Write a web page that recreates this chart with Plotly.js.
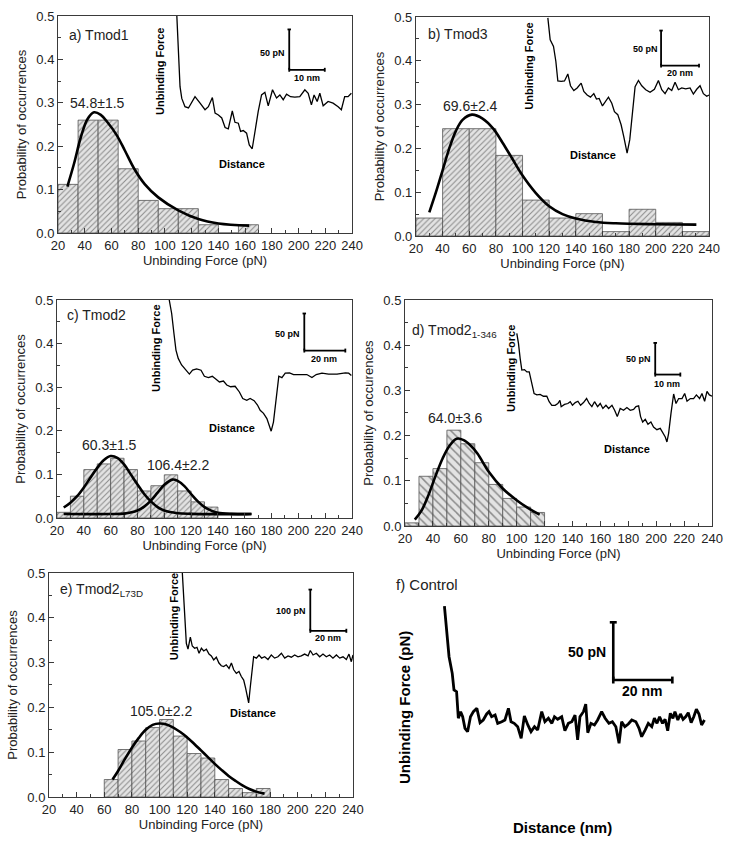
<!DOCTYPE html>
<html>
<head>
<meta charset="utf-8">
<script src="https://cdn.plot.ly/plotly-3.0.1.min.js"></script>
<style>
  html, body { margin: 0; padding: 0; background: #fff; }
  #chart { width: 729px; height: 845px; }
</style>
</head>
<body>
<div id="chart"></div>
<script>
// a) Tmod1
const tmod1BinStart = [20, 35, 50, 65, 80, 95, 110, 125, 140, 155];
const tmod1Prob = [0.112, 0.26, 0.26, 0.148, 0.075, 0.056, 0.056, 0.019, 0, 0.019];
const tmod1FitX = [27, 32, 37, 42, 47, 52, 57, 64, 70, 77, 85, 95, 110, 125, 140, 163];
const tmod1FitY = [0.107, 0.16, 0.22, 0.262, 0.278, 0.272, 0.255, 0.225, 0.19, 0.148, 0.112, 0.082, 0.052, 0.032, 0.022, 0.017];
const tmod1TraceX = [108.9, 110.1, 111.3, 112.6, 115, 117.6, 122.5, 126.3, 130, 132.5, 135.5, 137.5, 140, 142.5, 145, 147.4, 150.4, 152.4, 154.9, 156.6, 158.6, 161.1, 163.1, 165.3, 167.3, 169.8, 172.3, 174.8, 177.3, 180.5, 183.5, 186, 188.5, 191, 194, 197.2, 200.9, 204.7, 207.2, 209.6, 211.6, 213.9, 215.9, 218.4, 222.1, 225.8, 229.6, 232, 234.5, 237, 239.5];
const tmod1TraceY = [0.5, 0.42, 0.337, 0.31, 0.291, 0.288, 0.314, 0.299, 0.284, 0.291, 0.312, 0.276, 0.272, 0.265, 0.243, 0.24, 0.281, 0.255, 0.253, 0.234, 0.236, 0.23, 0.203, 0.194, 0.234, 0.28, 0.318, 0.324, 0.293, 0.33, 0.311, 0.318, 0.307, 0.32, 0.314, 0.313, 0.314, 0.33, 0.322, 0.295, 0.318, 0.303, 0.322, 0.293, 0.303, 0.299, 0.291, 0.284, 0.314, 0.314, 0.322];

// b) Tmod3
const tmod3BinStart = [20, 40, 60, 80, 100, 120, 140, 160, 180, 200, 220];
const tmod3Prob = [0.041, 0.245, 0.245, 0.184, 0.082, 0.041, 0.051, 0.010, 0.061, 0.031, 0.010];
const tmod3FitX = [30, 35, 40, 45, 50, 55, 62, 70, 78, 85, 92, 100, 110, 120, 130, 140, 155, 170, 200, 230.5];
const tmod3FitY = [0.054, 0.1, 0.15, 0.2, 0.24, 0.265, 0.277, 0.268, 0.245, 0.213, 0.178, 0.138, 0.098, 0.068, 0.05, 0.04, 0.032, 0.029, 0.027, 0.026];
const tmod3TraceX = [119, 120.75, 123.25, 125, 126.5, 129, 131.5, 134, 136, 138.5, 141, 144, 146, 148.5, 151, 153.5, 155.5, 157.5, 160, 162, 164.5, 167, 169, 171.5, 174, 176, 178.5, 180.5, 182.5, 184.5, 187, 189.5, 192.5, 195.75, 199, 202, 204.5, 207, 209.5, 212, 214.5, 217, 219.5, 222.5, 225.75, 228.25, 230.75, 233.25, 235.75, 238.25, 240];
const tmod3TraceY = [0.498, 0.448, 0.433, 0.399, 0.354, 0.353, 0.354, 0.37, 0.343, 0.332, 0.338, 0.349, 0.33, 0.322, 0.317, 0.325, 0.3125, 0.314, 0.297, 0.305, 0.317, 0.303, 0.284, 0.277, 0.254, 0.227, 0.189, 0.22, 0.288, 0.341, 0.355, 0.343, 0.334, 0.328, 0.335, 0.355, 0.334, 0.325, 0.338, 0.332, 0.351, 0.334, 0.338, 0.336, 0.338, 0.324, 0.335, 0.343, 0.325, 0.319, 0.322];

// c) Tmod2
const tmod2BinStart = [20, 30, 40, 50, 60, 70, 80, 90, 100, 110, 120, 130];
const tmod2Prob = [0.013, 0.05, 0.111, 0.124, 0.137, 0.111, 0.062, 0.074, 0.099, 0.062, 0.037, 0.025];
const tmod2FitLowX = [25, 30, 35, 40, 45, 50, 55, 60, 65, 70, 75, 80, 85, 90, 95, 100, 110, 120, 165];
const tmod2FitLowY = [0.024, 0.035, 0.05, 0.07, 0.093, 0.115, 0.133, 0.142, 0.138, 0.123, 0.1, 0.077, 0.055, 0.038, 0.025, 0.017, 0.011, 0.0095, 0.009];
const tmod2FitHighX = [25, 60, 70, 80, 85, 90, 95, 100, 106, 110, 115, 120, 125, 130, 135, 140, 150, 165];
const tmod2FitHighY = [0.009, 0.009, 0.01, 0.017, 0.026, 0.04, 0.058, 0.076, 0.088, 0.085, 0.073, 0.055, 0.038, 0.025, 0.017, 0.012, 0.0095, 0.009];
const tmod2TraceX = [103.7, 105.5, 107.2, 108.7, 110.4, 112.9, 116.2, 118.7, 121.1, 124.1, 127.4, 129.9, 132.9, 135.8, 138.6, 141.1, 144.1, 146.6, 149.5, 152.8, 156, 158.5, 161.5, 164, 167, 169.5, 171.5, 174, 176.5, 178.4, 179.7, 181.4, 183.4, 185.4, 187.7, 190.2, 193.4, 196.4, 201.4, 206.3, 210.1, 213.3, 217.6, 222.5, 228.8, 235, 237.5, 239.5];
const tmod2TraceY = [0.5, 0.469, 0.423, 0.385, 0.366, 0.351, 0.339, 0.33, 0.339, 0.342, 0.339, 0.325, 0.322, 0.325, 0.318, 0.312, 0.314, 0.305, 0.301, 0.302, 0.289, 0.274, 0.27, 0.274, 0.269, 0.259, 0.247, 0.24, 0.228, 0.209, 0.199, 0.22, 0.27, 0.325, 0.322, 0.332, 0.333, 0.329, 0.329, 0.329, 0.322, 0.329, 0.332, 0.33, 0.33, 0.333, 0.332, 0.327];

// d) Tmod2 1-346
const tmod2TruncBinStart = [20, 30, 40, 50, 60, 70, 80, 90, 100, 110];
const tmod2TruncProb = [0.007, 0.11, 0.127, 0.212, 0.182, 0.14, 0.092, 0.061, 0.042, 0.03];
const tmod2TruncFitX = [27, 32, 37, 42, 47, 52, 57, 62, 67, 72, 80, 90, 100, 108, 116.5];
const tmod2TruncFitY = [0.014, 0.035, 0.07, 0.112, 0.15, 0.178, 0.193, 0.19, 0.178, 0.16, 0.12, 0.083, 0.057, 0.04, 0.025];
const tmod2TruncTraceX = [100.1, 101.3, 102.5, 103.7, 105.6, 107.3, 109, 110.9, 112.5, 114.5, 116.8, 119.2, 121.6, 123.3, 125.2, 127.6, 129.5, 131, 131.9, 134.3, 136.7, 138.4, 140, 142, 143.9, 145.8, 147.9, 150.1, 152, 153.9, 155.8, 158, 159.9, 161.8, 164, 165.9, 168.3, 170.2, 172.1, 174.2, 176.6, 179, 181.4, 183.8, 185.5, 187.4, 188.8, 190.3, 192.2, 194.1, 196.2, 198.1, 200.5, 202.9, 204.8, 206.5, 207.7, 208.9, 210.6, 212.5, 214.2, 216.1, 218.5, 220.4, 222.1, 224.5, 226.8, 228.8, 231.1, 232.8, 234.7, 236.4, 238.1, 240];
const tmod2TruncTraceY = [0.426, 0.404, 0.371, 0.345, 0.346, 0.341, 0.341, 0.315, 0.293, 0.29, 0.291, 0.287, 0.287, 0.275, 0.267, 0.267, 0.271, 0.278, 0.264, 0.269, 0.271, 0.275, 0.267, 0.273, 0.276, 0.267, 0.273, 0.282, 0.271, 0.264, 0.275, 0.264, 0.271, 0.26, 0.267, 0.26, 0.267, 0.256, 0.242, 0.26, 0.256, 0.262, 0.256, 0.258, 0.264, 0.266, 0.242, 0.23, 0.236, 0.225, 0.23, 0.219, 0.213, 0.216, 0.205, 0.197, 0.186, 0.205, 0.249, 0.292, 0.271, 0.282, 0.282, 0.293, 0.276, 0.282, 0.282, 0.29, 0.282, 0.293, 0.276, 0.298, 0.29, 0.287];

// e) Tmod2 L73D
const tmod2MutBinStart = [60, 70, 80, 90, 100, 110, 120, 130, 140, 150, 160, 170];
const tmod2MutProb = [0.039, 0.106, 0.125, 0.155, 0.173, 0.136, 0.097, 0.087, 0.039, 0.019, 0.0097, 0.019];
const tmod2MutFitX = [66, 70, 75, 80, 85, 90, 95, 100, 105, 110, 115, 120, 125, 130, 135, 140, 145, 150, 155, 160, 165, 170, 176];
const tmod2MutFitY = [0.039, 0.058, 0.085, 0.11, 0.132, 0.15, 0.161, 0.164, 0.162, 0.155, 0.145, 0.133, 0.119, 0.104, 0.089, 0.074, 0.06, 0.047, 0.036, 0.026, 0.018, 0.012, 0.0075];
const tmod2MutTraceX = [116.5, 117.5, 118.4, 119.4, 120.6, 122.3, 123.7, 125.4, 127.1, 128.6, 130.3, 132, 133.9, 135.8, 137.5, 139.2, 141.1, 143, 144.7, 146.4, 148.3, 150.3, 152, 153.7, 155.6, 157.5, 159.2, 160.9, 162.3, 163.8, 164.5, 165.7, 166.9, 168.1, 170.1, 172, 173.9, 176.1, 178.5, 180.9, 183.3, 185.7, 188.2, 190.6, 193, 195.4, 197.8, 200.2, 202.6, 205, 207.5, 209.1, 211.1, 213.5, 215.9, 218.3, 220.7, 223.1, 225.5, 228, 230.4, 232.8, 235.2, 237.1, 238.8, 240];
const tmod2MutTraceY = [0.5, 0.44, 0.381, 0.343, 0.33, 0.357, 0.337, 0.332, 0.334, 0.321, 0.332, 0.326, 0.33, 0.319, 0.315, 0.306, 0.312, 0.299, 0.293, 0.291, 0.295, 0.287, 0.299, 0.284, 0.276, 0.28, 0.269, 0.261, 0.243, 0.216, 0.21, 0.246, 0.28, 0.313, 0.31, 0.317, 0.31, 0.313, 0.307, 0.317, 0.31, 0.313, 0.321, 0.31, 0.315, 0.312, 0.317, 0.313, 0.315, 0.319, 0.315, 0.327, 0.317, 0.321, 0.313, 0.319, 0.313, 0.317, 0.31, 0.317, 0.31, 0.313, 0.307, 0.319, 0.302, 0.317];

// f) Control (distance in nm, force in pN)
const controlDistance = [13.6, 14.4, 15.2, 16.3, 16.9, 17.8, 18.4, 19.2, 19.9, 20.7, 21.6, 22.6, 23.6, 24.8, 25.9, 27, 28.2, 29, 29.9, 31.1, 32, 33.4, 34.5, 35.7, 36.6, 37.7, 38.9, 40.1, 41.2, 42.4, 43.5, 44.7, 45.8, 47.2, 48.3, 49.5, 50.7, 51.6, 52.7, 54.1, 55.2, 56.4, 57.6, 58.7, 59.6, 60.4, 61.6, 62.4, 63.1, 64.2, 65.4, 66.5, 67.9, 69.1, 70.4, 71.6, 72.8, 73.9, 74.8, 75.9, 77.1, 78.3, 79.7, 80.8, 81.7, 82.9, 84, 85.2, 86.1, 87, 87.9, 88.9, 89.8, 90.7, 91.6, 92.5, 93.2, 94.2, 95.1, 96, 96.9, 97.8, 98.8, 99.7, 100.6, 101.5, 102.4, 103.4];
const controlForce = [165.4, 141.8, 121.5, 107.1, 92.7, 91.2, 68.2, 73.9, 69.5, 59.5, 56.6, 69.5, 73.9, 76.8, 64.4, 66.7, 71.9, 73.9, 69.5, 71, 63.8, 65.2, 66.7, 76.8, 65.2, 63.8, 60.9, 50.8, 70.2, 62.4, 56.6, 60.9, 58, 73.9, 65.2, 68.2, 63.8, 69.5, 67.3, 69.5, 57.4, 63.8, 65.2, 71, 49.4, 69.5, 73.9, 80.5, 55.7, 63.8, 62.4, 66.7, 73.9, 68.2, 63.8, 65.2, 60.9, 46.5, 65.2, 60.9, 63.2, 66.7, 65.2, 59.5, 52.2, 58, 63.8, 60.9, 68.2, 63.8, 69.5, 63.8, 67.3, 57.4, 72.5, 68.2, 73.9, 66.7, 71.9, 67.3, 69.5, 73, 64.4, 69.5, 76, 71.9, 62.4, 66.7];

const FONT = 'Liberation Sans, Arial, Helvetica, sans-serif';
const AXIS_COLOR = '#3a3a3a';

const panels = [
    {
        n: '', xDomain: [0.0796, 0.4829], yDomain: [0.7243, 0.9811],
        bins: tmod1BinStart, prob: tmod1Prob, binWidth: 15, hatch: '/', hatchSize: 4,
        fits: [[tmod1FitX, tmod1FitY]], trace: [tmod1TraceX, tmod1TraceY],
        yTitle: 'Probability of occurrences',
        label: ['a) Tmod1', 26.7, 0.456],
        peaks: [['54.8±1.5', 49.9, 0.30]],
        force: [95.9, 0.372], dist: [157.4, 0.159],
        bar: { x: 193, yTop: 0.469, yBot: 0.376, xEnd: 219.6, fText: '50 pN', fAt: [191, 0.414], dText: '10 nm', dAt: [206.4, 0.357] }
    },
    {
        n: '2', xDomain: [0.5706, 0.9726], yDomain: [0.7207, 0.9799],
        bins: tmod3BinStart, prob: tmod3Prob, binWidth: 20, hatch: '/', hatchSize: 4,
        fits: [[tmod3FitX, tmod3FitY]], trace: [tmod3TraceX, tmod3TraceY],
        yTitle: 'Probability of occurrences',
        label: ['b) Tmod3', 27.75, 0.461],
        peaks: [['69.6±2.4', 61, 0.297]],
        force: [105, 0.387], dist: [152.75, 0.185],
        bar: { x: 204, yTop: 0.469, yBot: 0.389, xEnd: 232.5, fText: '50 pN', fAt: [203, 0.427], dText: '20 nm', dAt: [218, 0.372] }
    },
    {
        n: '3', xDomain: [0.0782, 0.4829], yDomain: [0.3870, 0.6450],
        bins: tmod2BinStart, prob: tmod2Prob, binWidth: 10, hatch: '/', hatchSize: 4,
        fits: [[tmod2FitLowX, tmod2FitLowY], [tmod2FitHighX, tmod2FitHighY]], trace: [tmod2TraceX, tmod2TraceY],
        yTitle: 'Probability of occurrences',
        label: ['c) Tmod2', 25.7, 0.466],
        peaks: [['60.3±1.5', 59.4, 0.168], ['106.4±2.2', 110.4, 0.121]],
        force: [94.2, 0.389], dist: [150.8, 0.207],
        bar: { x: 204.4, yTop: 0.469, yBot: 0.384, xEnd: 235, fText: '50 pN', fAt: [202.4, 0.423], dText: '20 nm', dAt: [219.3, 0.364] }
    },
    {
        n: '4', xDomain: [0.5556, 0.9767], yDomain: [0.3775, 0.6450],
        bins: tmod2TruncBinStart, prob: tmod2TruncProb, binWidth: 10, hatch: '\\', hatchSize: 6,
        fits: [[tmod2TruncFitX, tmod2TruncFitY]], trace: [tmod2TruncTraceX, tmod2TruncTraceY],
        yTitle: 'Probability of occurences',
        label: ['d) Tmod2<sub>1-346</sub>', 23.6, 0.431],
        peaks: [['64.0±3.6', 55.9, 0.239]],
        force: [95.8, 0.349], dist: [179, 0.171],
        bar: { x: 199.3, yTop: 0.405, yBot: 0.335, xEnd: 217.3, fText: '50 pN', fAt: [198, 0.369], dText: '10 nm', dAt: [207.7, 0.314] }
    },
    {
        n: '5', xDomain: [0.0672, 0.4842], yDomain: [0.0568, 0.3219],
        bins: tmod2MutBinStart, prob: tmod2MutProb, binWidth: 10, hatch: '/', hatchSize: 4,
        fits: [[tmod2MutFitX, tmod2MutFitY]], trace: [tmod2MutTraceX, tmod2MutTraceY],
        yTitle: 'Probability of occurrences',
        label: ['e) Tmod2<sub>L73D</sub>', 26.5, 0.461],
        peaks: [['105.0±2.2', 101.3, 0.193]],
        force: [111, 0.403], dist: [168, 0.187],
        bar: { x: 209.1, yTop: 0.463, yBot: 0.371, xEnd: 235.2, fText: '100 pN', fAt: [207.3, 0.416], dText: '20 nm', dAt: [222, 0.354] }
    }
];

const data = [];
const layout = {
    width: 729, height: 845,
    margin: { l: 0, r: 0, t: 0, b: 0 },
    paper_bgcolor: '#fff', plot_bgcolor: '#fff',
    font: { family: FONT, color: '#222' },
    showlegend: false,
    annotations: [], shapes: []
};

function note(xref, yref, x, y, text, extra) {
    return Object.assign({
        xref, yref, x, y, text, showarrow: false, xanchor: 'center', yanchor: 'middle',
        font: { family: FONT, size: 14, color: '#222' }
    }, extra || {});
}

function scaleBar(xref, yref, b, capX, capY, width) {
    const line = { type: 'line', xref, yref, line: { color: '#000', width } };
    return [
        Object.assign({}, line, { x0: b.x, x1: b.x, y0: b.yTop, y1: b.yBot }),
        Object.assign({}, line, { x0: b.x - capX, x1: b.x + capX, y0: b.yTop, y1: b.yTop }),
        Object.assign({}, line, { x0: b.x, x1: b.xEnd, y0: b.yBot, y1: b.yBot }),
        Object.assign({}, line, { x0: b.x, x1: b.x, y0: b.yBot - capY, y1: b.yBot + capY }),
        Object.assign({}, line, { x0: b.xEnd, x1: b.xEnd, y0: b.yBot - capY, y1: b.yBot + capY })
    ];
}

panels.forEach(p => {
    const xa = 'x' + p.n, ya = 'y' + p.n;

    data.push({
        type: 'bar', x: p.bins, y: p.prob, xaxis: xa, yaxis: ya,
        width: p.binWidth, offset: 0,
        marker: {
            color: '#e3e3e3',
            line: { color: '#555', width: 0.8 },
            pattern: { shape: p.hatch, bgcolor: '#e3e3e3', fgcolor: '#8a8a8a', size: p.hatchSize, solidity: 0.25 }
        }
    });
    p.fits.forEach(f => data.push({
        type: 'scatter', mode: 'lines', x: f[0], y: f[1], xaxis: xa, yaxis: ya,
        line: { color: '#000', width: 2.6, shape: 'spline' }
    }));
    data.push({
        type: 'scatter', mode: 'lines', x: p.trace[0], y: p.trace[1], xaxis: xa, yaxis: ya,
        line: { color: '#000', width: 1.3 }
    });

    layout['xaxis' + p.n] = {
        domain: p.xDomain, anchor: ya, range: [20, 240], tick0: 20, dtick: 20,
        ticks: 'inside', ticklen: 5, tickwidth: 1, tickcolor: AXIS_COLOR,
        minor: { dtick: 10, ticks: 'inside', ticklen: 3, tickcolor: AXIS_COLOR },
        showline: true, linecolor: AXIS_COLOR, linewidth: 1, mirror: true,
        showgrid: false, zeroline: false,
        tickfont: { size: 13, color: '#222' },
        title: { text: 'Unbinding Force (pN)', font: { size: 13, color: '#222' }, standoff: 4 }
    };
    layout['yaxis' + p.n] = {
        domain: p.yDomain, anchor: xa, range: [0, 0.5], dtick: 0.1, tickformat: '.1f',
        ticks: 'inside', ticklen: 5, tickwidth: 1, tickcolor: AXIS_COLOR,
        minor: { dtick: 0.05, ticks: 'inside', ticklen: 3, tickcolor: AXIS_COLOR },
        showline: true, linecolor: AXIS_COLOR, linewidth: 1, mirror: true,
        showgrid: false, zeroline: false,
        tickfont: { size: 13, color: '#222' },
        title: { text: p.yTitle, font: { size: 13, color: '#222' }, standoff: 6 }
    };

    const A = layout.annotations;
    A.push(note(xa, ya, p.label[1], p.label[2], p.label[0], { xanchor: 'left' }));
    p.peaks.forEach(k => A.push(note(xa, ya, k[1], k[2], k[0])));
    const bold = { family: FONT, size: 11, color: '#000' };
    A.push(note(xa, ya, p.force[0], p.force[1], '<b>Unbinding Force</b>', { textangle: -90, font: bold }));
    A.push(note(xa, ya, p.dist[0], p.dist[1], '<b>Distance</b>', { font: bold }));
    const small = { family: FONT, size: 9, color: '#000' };
    A.push(note(xa, ya, p.bar.fAt[0], p.bar.fAt[1], '<b>' + p.bar.fText + '</b>', { xanchor: 'right', font: small }));
    A.push(note(xa, ya, p.bar.dAt[0], p.bar.dAt[1], '<b>' + p.bar.dText + '</b>', { font: small }));

    layout.shapes.push(...scaleBar(xa, ya, p.bar, 1.3, 0.0045, 1.8));
});

// f) Control: axes hidden, only the force trace with its scale bar
data.push({
    type: 'scatter', mode: 'lines', x: controlDistance, y: controlForce, xaxis: 'x6', yaxis: 'y6',
    line: { color: '#000', width: 2.8 }
});
layout.xaxis6 = { domain: [0.5556, 0.9767], anchor: 'y6', range: [0, 106], visible: false };
layout.yaxis6 = { domain: [0.0568, 0.3219], anchor: 'x6', range: [0, 194], visible: false };
const controlBar = { x: 71.9, yTop: 151.3, yBot: 101.3, xEnd: 92.3 };
layout.shapes.push(...scaleBar('x6', 'y6', controlBar, 1.2, 3, 2.6));
const big = { family: FONT, size: 14, color: '#000' };
layout.annotations.push(
    note('x6', 'y6', 70.2, 125.3, '<b>50 pN</b>', { xanchor: 'right', font: big }),
    note('x6', 'y6', 81.9, 91.8, '<b>20 nm</b>', { font: big }),
    note('paper', 'paper', 394 / 729, 1 - 584 / 845, 'f) Control', { xanchor: 'left', font: { family: FONT, size: 15, color: '#222' } }),
    note('paper', 'paper', 404 / 729, 1 - 707 / 845, '<b>Unbinding Force (pN)</b>', { textangle: -90, font: { family: FONT, size: 15, color: '#000' } }),
    note('paper', 'paper', 562 / 729, 1 - 827 / 845, '<b>Distance (nm)</b>', { font: { family: FONT, size: 15, color: '#000' } })
);

Plotly.newPlot('chart', data, layout, { displayModeBar: false, staticPlot: true });
</script>
</body>
</html>
